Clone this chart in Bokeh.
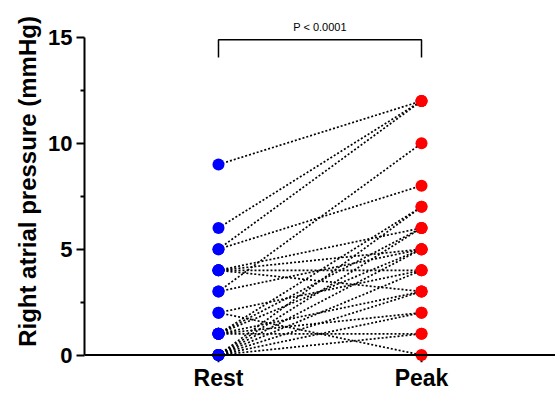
from bokeh.plotting import figure
from bokeh.models import Range1d, FixedTicker, Span, Label, ColumnDataSource
from bokeh.embed import file_html
from bokeh.resources import INLINE

# ---- data ----
categories = ["Rest", "Peak"]
rest = [9, 6, 5, 5, 3, 4, 4, 4, 4, 3, 2, 2, 1, 1, 1, 1, 1, 1, 0, 0, 0, 0, 0, 0, 0]
peak = [12, 12, 12, 8, 10, 6, 5, 4, 3, 5, 4, 0, 7, 6, 5, 3, 2, 1, 7, 6, 5, 4, 3, 2, 1]
y_ticks = [0, 5, 10, 15]
y_minor = [2.5, 7.5, 12.5]
p_text = "P < 0.0001"

FONT = "Liberation Sans"
xpos = {c: i + 1 for i, c in enumerate(categories)}
xr, xp = xpos["Rest"], xpos["Peak"]

p = figure(width=555, height=402,
           x_range=Range1d(0.340, 2.660), y_range=Range1d(-0.354, 16.748),
           output_backend="svg", toolbar_location=None,
           min_border_left=84, min_border_right=0, min_border_top=0, min_border_bottom=40)
p.outline_line_color = None
p.xgrid.visible = False
p.ygrid.visible = False
p.background_fill_color = "white"

# paired lines
src = ColumnDataSource(dict(x0=[xr] * len(rest), y0=rest, x1=[xp] * len(peak), y1=peak))
p.segment(x0="x0", y0="y0", x1="x1", y1="y1", source=src,
          line_color="black", line_width=1.7, line_dash="2 2")

# x-axis baseline and category ticks
p.add_layout(Span(location=0, dimension="width", line_color="black", line_width=2))
p.segment(x0=[xr, xp], y0=[0, 0], x1=[xr, xp], y1=[-0.354, -0.354],
          line_color="black", line_width=2)

# points
p.scatter(x=[xr] * len(rest), y=rest, size=12, color="#0000ff", line_color=None)
p.scatter(x=[xp] * len(peak), y=peak, size=12, color="#ff0000", line_color=None)

# significance bracket
p.line(x=[xr, xr, xp, xp], y=[14.06, 14.89, 14.89, 14.06], line_color="black", line_width=1.5)
p.add_layout(Label(x=(xr + xp) / 2, y=15.49, text=p_text, text_align="center",
                   text_baseline="middle", text_font=FONT, text_font_size="11px",
                   text_color="black"))

# y axis
ya = p.yaxis[0]
ya.bounds = (0, 15)
ya.ticker = FixedTicker(ticks=y_ticks, minor_ticks=y_minor)
ya.axis_line_width = 2
ya.major_tick_line_width = 2
ya.minor_tick_line_width = 2
ya.major_tick_out = 8
ya.major_tick_in = 0
ya.minor_tick_out = 4
ya.minor_tick_in = 0
ya.major_label_text_font = FONT
ya.major_label_text_font_style = "bold"
ya.major_label_text_font_size = "22px"
ya.major_label_text_color = "black"
ya.major_label_standoff = 4
ya.axis_label = "Right atrial pressure (mmHg)"
ya.axis_label_text_font = FONT
ya.axis_label_text_font_style = "bold"
ya.axis_label_text_font_size = "24px"
ya.axis_label_text_color = "black"
ya.axis_label_standoff = 4

# x axis
xa = p.xaxis[0]
xa.ticker = FixedTicker(ticks=[xr, xp], minor_ticks=[])
xa.major_label_overrides = {xr: "Rest", xp: "Peak"}
xa.axis_line_color = None
xa.major_tick_line_color = None
xa.minor_tick_line_color = None
xa.major_tick_out = 0
xa.major_tick_in = 0
xa.major_label_text_font = FONT
xa.major_label_text_font_style = "bold"
xa.major_label_text_font_size = "23px"
xa.major_label_text_color = "black"
xa.major_label_standoff = 2

open("out.html", "w").write(file_html(p, INLINE))
